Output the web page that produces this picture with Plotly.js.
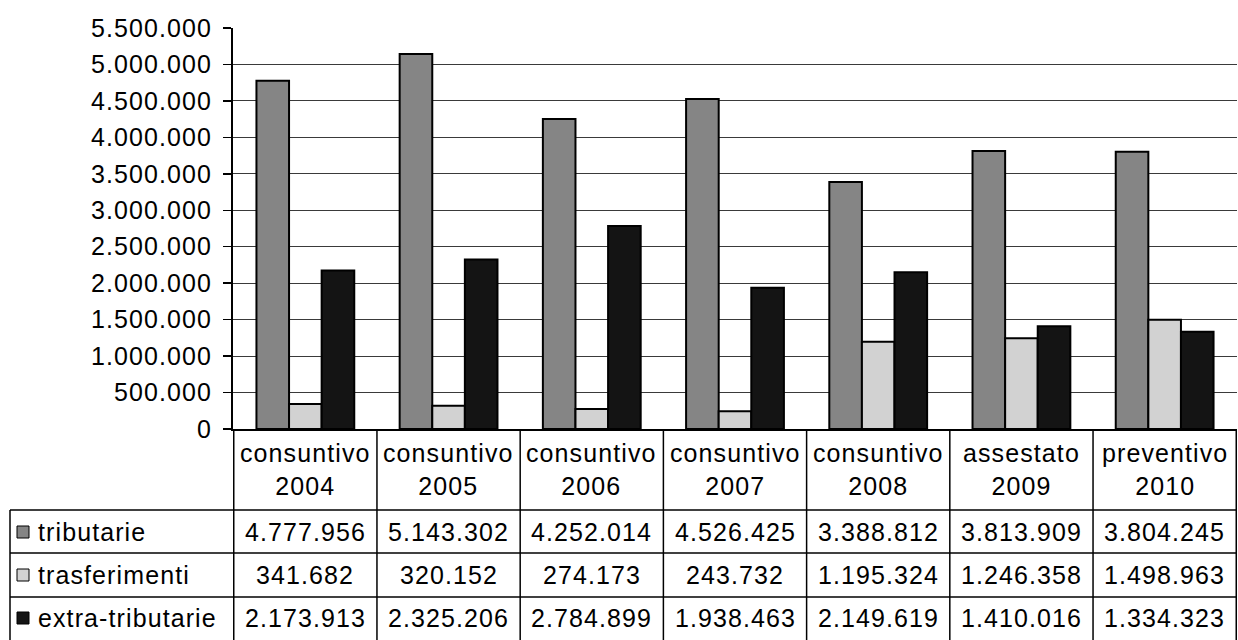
<!DOCTYPE html>
<html>
<head>
<meta charset="utf-8">
<script src="https://cdn.plot.ly/plotly-3.0.1.min.js"></script>
<style>
  html, body { margin: 0; padding: 0; background: #fff; }
  #chart { width: 1238px; height: 640px; }
  text { letter-spacing: 1.1px; }
</style>
</head>
<body>
<div id="chart"></div>
<script>
// ---- data ----
const categoryTypes = ["consuntivo", "consuntivo", "consuntivo", "consuntivo", "consuntivo", "assestato", "preventivo"];
const years = ["2004", "2005", "2006", "2007", "2008", "2009", "2010"];
const seriesNames = ["tributarie", "trasferimenti", "extra-tributarie"];
const tributarie = [4777956, 5143302, 4252014, 4526425, 3388812, 3813909, 3804245];
const trasferimenti = [341682, 320152, 274173, 243732, 1195324, 1246358, 1498963];
const extraTributarie = [2173913, 2325206, 2784899, 1938463, 2149619, 1410016, 1334323];
const yTicks = [0, 500000, 1000000, 1500000, 2000000, 2500000, 3000000, 3500000, 4000000, 4500000, 5000000, 5500000];

// ---- styling / layout constants ----
const W = 1238, H = 640;
const L = 233, R = 1237, T = 28, B = 429;
const colors = ["#858585", "#d2d2d2", "#141414"];
const FONT = "Liberation Sans, Arial, sans-serif";
const FS = 25;
const px2x = p => (p - L) / (R - L);
const px2y = p => (B - p) / (B - T);

const categories = categoryTypes.map((t, i) => t + " " + years[i]);
const headerLabels = categoryTypes.map((t, i) => t + "<br>" + years[i]);
const allSeries = [tributarie, trasferimenti, extraTributarie];

function fmt(n) {
  return String(n).replace(/\B(?=(\d{3})+(?!\d))/g, ".");
}

const traces = allSeries.map((vals, k) => ({
  type: "bar",
  name: seriesNames[k],
  x: categories,
  y: vals,
  marker: { color: colors[k], line: { color: "#000", width: 2 } },
  hoverinfo: "x+y+name"
}));

// table geometry (pixel rows)
const headerBottom = 510;
const rowLines = [510, 553, 597, 641];
const rowCenters = [532, 575, 618];
const tableLeft = 10;

const shapes = [];
for (let i = 0; i <= categories.length; i++) {
  shapes.push({ type: "line", xref: "x", yref: "paper",
    x0: i - 0.5, x1: i - 0.5, y0: 0, y1: px2y(rowLines[rowLines.length - 1]),
    line: { color: "#000", width: 1.5 } });
}
rowLines.forEach(p => {
  shapes.push({ type: "line", xref: "paper", yref: "paper",
    x0: px2x(tableLeft), x1: 1, y0: px2y(p), y1: px2y(p),
    line: { color: "#000", width: 1.5 } });
});
shapes.push({ type: "line", xref: "paper", yref: "paper",
  x0: px2x(tableLeft), x1: px2x(tableLeft), y0: px2y(headerBottom), y1: px2y(rowLines[rowLines.length - 1]),
  line: { color: "#000", width: 1.5 } });
rowCenters.forEach((c, k) => {
  shapes.push({ type: "rect", xref: "paper", yref: "paper",
    x0: px2x(17), x1: px2x(29), y0: px2y(c - 6), y1: px2y(c + 6),
    fillcolor: colors[k], line: { color: "#000", width: 1 } });
});

const annotations = [];
headerLabels.forEach((lab, i) => {
  annotations.push({ xref: "x", yref: "paper", x: i, y: px2y(469),
    text: lab, showarrow: false, xanchor: "center", yanchor: "middle",
    font: { family: FONT, size: FS, color: "#000" } });
});
allSeries.forEach((vals, k) => {
  annotations.push({ xref: "paper", yref: "paper", x: px2x(36), y: px2y(rowCenters[k]),
    text: seriesNames[k], showarrow: false, xanchor: "left", yanchor: "middle",
    font: { family: FONT, size: FS, color: "#000" } });
  vals.forEach((v, i) => {
    annotations.push({ xref: "x", yref: "paper", x: i, y: px2y(rowCenters[k]),
      text: fmt(v), showarrow: false, xanchor: "center", yanchor: "middle",
      font: { family: FONT, size: FS, color: "#000" } });
  });
});

const layout = {
  width: W, height: H,
  margin: { l: L, r: W - R, t: T, b: H - B, pad: 0 },
  paper_bgcolor: "#fff", plot_bgcolor: "#fff",
  separators: ",.",
  showlegend: false,
  barmode: "group",
  bargap: 0.317,
  bargroupgap: 0,
  font: { family: FONT, size: FS, color: "#000" },
  xaxis: {
    type: "category", showticklabels: false, ticks: "",
    showline: true, linecolor: "#000", linewidth: 2,
    showgrid: false, zeroline: false, fixedrange: true
  },
  yaxis: {
    range: [0, 5500000], tickvals: yTicks, tickformat: ",d",
    ticks: "outside", ticklen: 8, tickcolor: "#000", tickwidth: 1.5,
    showline: true, linecolor: "#000", linewidth: 2,
    showgrid: true, gridcolor: "#3a3a3a", gridwidth: 1,
    zeroline: false, ticklabelstandoff: 6,
    tickfont: { family: FONT, size: FS, color: "#000" }, fixedrange: true
  },
  shapes: shapes,
  annotations: annotations
};

Plotly.newPlot("chart", traces, layout, { displayModeBar: false, staticPlot: true });
</script>
</body>
</html>
